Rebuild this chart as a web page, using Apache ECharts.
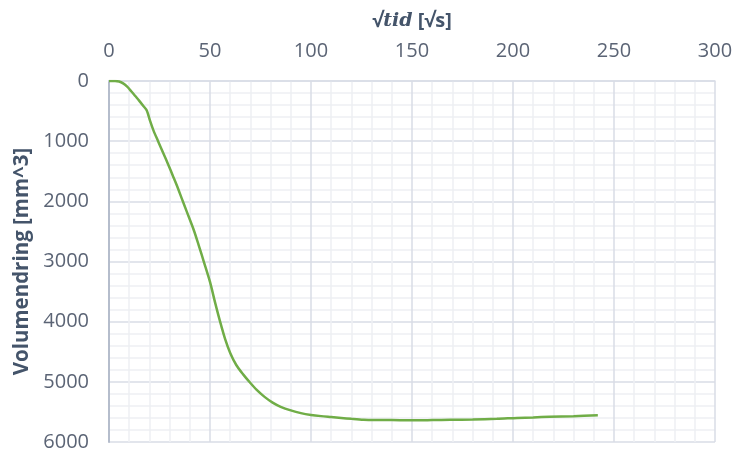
<!DOCTYPE html>
<html>
<head>
<meta charset="utf-8">
<script src="https://cdn.jsdelivr.net/npm/echarts@6/dist/echarts.min.js"></script>
<style>
html,body{margin:0;padding:0;background:#fff;}
#chart{width:752px;height:458px;}
</style>
</head>
<body>
<div id="chart"></div>
<script>
// sqrt(time) [√s]
const xValues = [0, 3, 5, 7, 9, 11, 13, 15, 17, 18.7, 20.3, 22, 24.4, 27, 29.4, 31.5, 33.5, 36, 38.5, 42, 44.5, 47, 50, 52.5, 55, 57.5, 60, 63, 66.5, 70, 73, 77, 81, 85, 90, 95, 100, 105, 110, 115, 120, 126, 132, 140, 150, 160, 169, 180, 192, 202, 210, 218, 230, 242];
// volume change [mm^3]
const yValues = [0, 0, 8, 40, 95, 170, 250, 330, 415, 490, 660, 820, 1008, 1210, 1395, 1565, 1728, 1950, 2171, 2480, 2740, 3010, 3340, 3680, 4000, 4290, 4520, 4720, 4880, 5020, 5130, 5250, 5345, 5415, 5475, 5520, 5550, 5570, 5585, 5600, 5615, 5630, 5635, 5636, 5640, 5636, 5631, 5625, 5615, 5600, 5592, 5581, 5570, 5556];
const xTicks = {min: 0, max: 300, interval: 50};
const yTicks = {min: 0, max: 6000, interval: 1000};
const xName = ['√', 'tid', ' [√s]'];
const yName = 'Volumendring [mm^3]';

const data = xValues.map((x, i) => [x, yValues[i]]);
const chart = echarts.init(document.getElementById('chart'));
const labelColor = '#5b6475';
const nameColor = '#44546a';
const font = '"Open Sans", "DejaVu Sans", sans-serif';
chart.setOption({
  animation: false,
  grid: {left: 109, right: 37, top: 81, bottom: 16, containLabel: false, outerBoundsMode: 'none'},
  xAxis: {
    type: 'value', position: 'top',
    min: xTicks.min, max: xTicks.max, interval: xTicks.interval,
    name: '{n|' + xName[0] + '}{i|' + xName[1] + '}{n|' + xName[2] + '}',
    nameLocation: 'middle', nameGap: 50,
    nameTextStyle: {
      rich: {
        n: {fontFamily: font, fontWeight: 'bold', fontSize: 20, color: nameColor},
        i: {fontFamily: '"DejaVu Serif", serif', fontStyle: 'italic', fontWeight: 'bold', fontSize: 19, color: nameColor}
      }
    },
    axisLine: {show: true, lineStyle: {color: '#d9dde6', width: 1.5}},
    axisTick: {show: false},
    axisLabel: {color: labelColor, fontSize: 20, fontFamily: font, margin: 20, formatter: v => String(v)},
    splitLine: {show: true, lineStyle: {color: '#d9dde6', width: 1.5}},
    minorTick: {show: false, splitNumber: 5},
    minorSplitLine: {show: true, lineStyle: {color: '#eef0f4', width: 1.5}}
  },
  yAxis: {
    type: 'value', inverse: true,
    min: yTicks.min, max: yTicks.max, interval: yTicks.interval,
    name: yName, nameLocation: 'middle', nameGap: 75,
    nameTextStyle: {fontFamily: font, fontWeight: 'bold', fontSize: 20.5, color: nameColor},
    axisLine: {show: true, lineStyle: {color: '#b5bdcc', width: 2}},
    axisTick: {show: false},
    axisLabel: {color: labelColor, fontSize: 20, fontFamily: font, margin: 20, formatter: v => String(v)},
    splitLine: {show: true, lineStyle: {color: '#d9dde6', width: 1.5}},
    minorTick: {show: false, splitNumber: 5},
    minorSplitLine: {show: true, lineStyle: {color: '#eef0f4', width: 1.5}}
  },
  series: [{
    type: 'line', data: data, smooth: 0.3, showSymbol: false,
    lineStyle: {color: '#70ad47', width: 2.5}
  }]
});
</script>
</body>
</html>
